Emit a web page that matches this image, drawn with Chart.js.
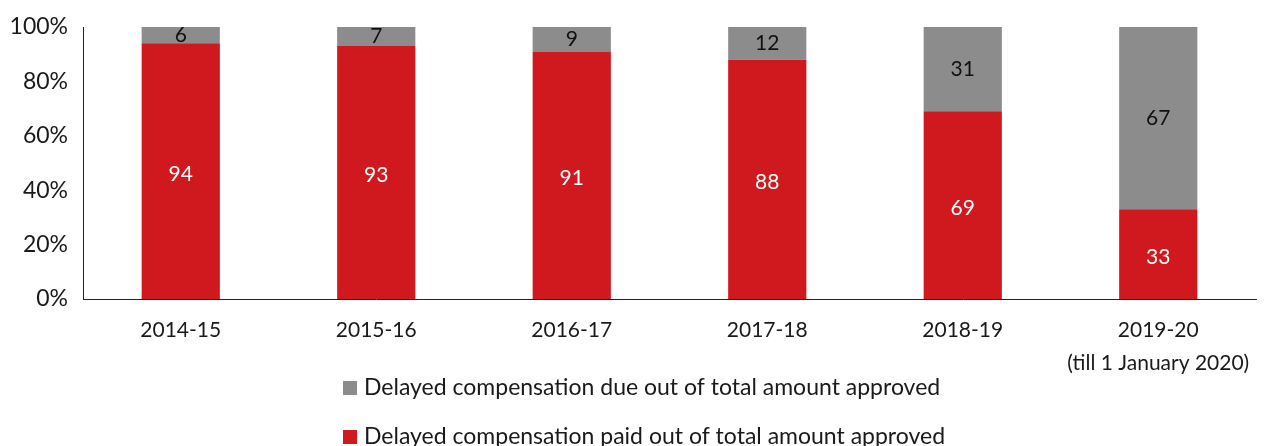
<!DOCTYPE html>
<html lang="en">
<head>
    <meta charset="UTF-8">
    <title>Delayed compensation</title>
    <script src="https://cdn.jsdelivr.net/npm/chart.js"></script>
    <style>
        html, body { margin: 0; padding: 0; background: #fff; }
        #wrap { width: 1266px; height: 446px; }
    </style>
</head>
<body>
    <div id="wrap"><canvas id="chart" width="1266" height="446"></canvas></div>
    <script>
        const years = ['2014-15', '2015-16', '2016-17', '2017-18', '2018-19', ['2019-20', '(till 1 January 2020)']];
        const paid = [94, 93, 91, 88, 69, 33];
        const due = [6, 7, 9, 12, 31, 67];
        const yTicks = [0, 20, 40, 60, 80, 100];

        const fontFamily = 'Lato, "Open Sans", sans-serif';

        // numbers inside each bar segment
        const barLabels = {
            id: 'barLabels',
            afterDatasetsDraw(chart) {
                const ctx = chart.ctx;
                ctx.save();
                ctx.font = '21px ' + fontFamily;
                ctx.textAlign = 'center';
                ctx.textBaseline = 'middle';
                chart.data.datasets.forEach((ds, i) => {
                    const meta = chart.getDatasetMeta(i);
                    meta.data.forEach((bar, j) => {
                        const mid = (bar.y + bar.base) / 2;
                        ctx.fillStyle = ds.labelColor;
                        ctx.fillText(ds.data[j], bar.x, mid + (i === 0 ? 3 : 0));
                    });
                });
                ctx.restore();
            }
        };

        // two legend rows, gray first
        const stackedLegend = {
            id: 'stackedLegend',
            afterDraw(chart) {
                const ctx = chart.ctx;
                ctx.save();
                ctx.font = '23px ' + fontFamily;
                ctx.textBaseline = 'middle';
                const rows = chart.data.datasets.slice().reverse();
                rows.forEach((ds, i) => {
                    const y = 388 + i * 49;
                    ctx.fillStyle = ds.backgroundColor;
                    ctx.fillRect(343, y - 7, 14, 14);
                    ctx.fillStyle = '#1a1a1a';
                    ctx.fillText(ds.label, 364, y);
                });
                ctx.restore();
            }
        };

        const ctx = document.getElementById('chart').getContext('2d');
        const mychart = new Chart(ctx, {
            type: 'bar',
            data: {
                labels: years,
                datasets: [
                    {
                        label: 'Delayed compensation paid out of total amount approved',
                        data: paid,
                        backgroundColor: '#d0191f',
                        labelColor: '#ffffff',
                        barPercentage: 0.4,
                        categoryPercentage: 1
                    },
                    {
                        label: 'Delayed compensation due out of total amount approved',
                        data: due,
                        backgroundColor: '#8c8c8c',
                        labelColor: '#111111',
                        barPercentage: 0.4,
                        categoryPercentage: 1
                    }
                ]
            },
            options: {
                responsive: false,
                animation: false,
                layout: { padding: { top: 27, right: 10, left: 0, bottom: 0 } },
                plugins: {
                    legend: { display: false },
                    tooltip: { enabled: false }
                },
                scales: {
                    x: {
                        stacked: true,
                        grid: { display: false, drawTicks: false },
                        border: { display: true, color: '#222', width: 1 },
                        ticks: {
                            color: '#1a1a1a',
                            font: { family: fontFamily, size: 21, lineHeight: 1.55 },
                            padding: 15,
                            maxRotation: 0
                        },
                        afterFit(scale) { scale.height = 147; }
                    },
                    y: {
                        stacked: true,
                        min: 0,
                        max: 100,
                        afterBuildTicks(scale) {
                            scale.ticks = yTicks.map(v => ({ value: v }));
                        },
                        grid: { display: false, drawTicks: false },
                        border: { display: true, color: '#222', width: 1 },
                        ticks: {
                            color: '#1a1a1a',
                            font: { family: fontFamily, size: 23 },
                            padding: 15,
                            callback: v => v + '%'
                        },
                        afterFit(scale) {
                            scale.width = 83;
                            scale.paddingTop = 0;
                            scale.paddingBottom = 0;
                        }
                    }
                }
            },
            plugins: [barLabels, stackedLegend]
        });
    </script>
</body>
</html>
